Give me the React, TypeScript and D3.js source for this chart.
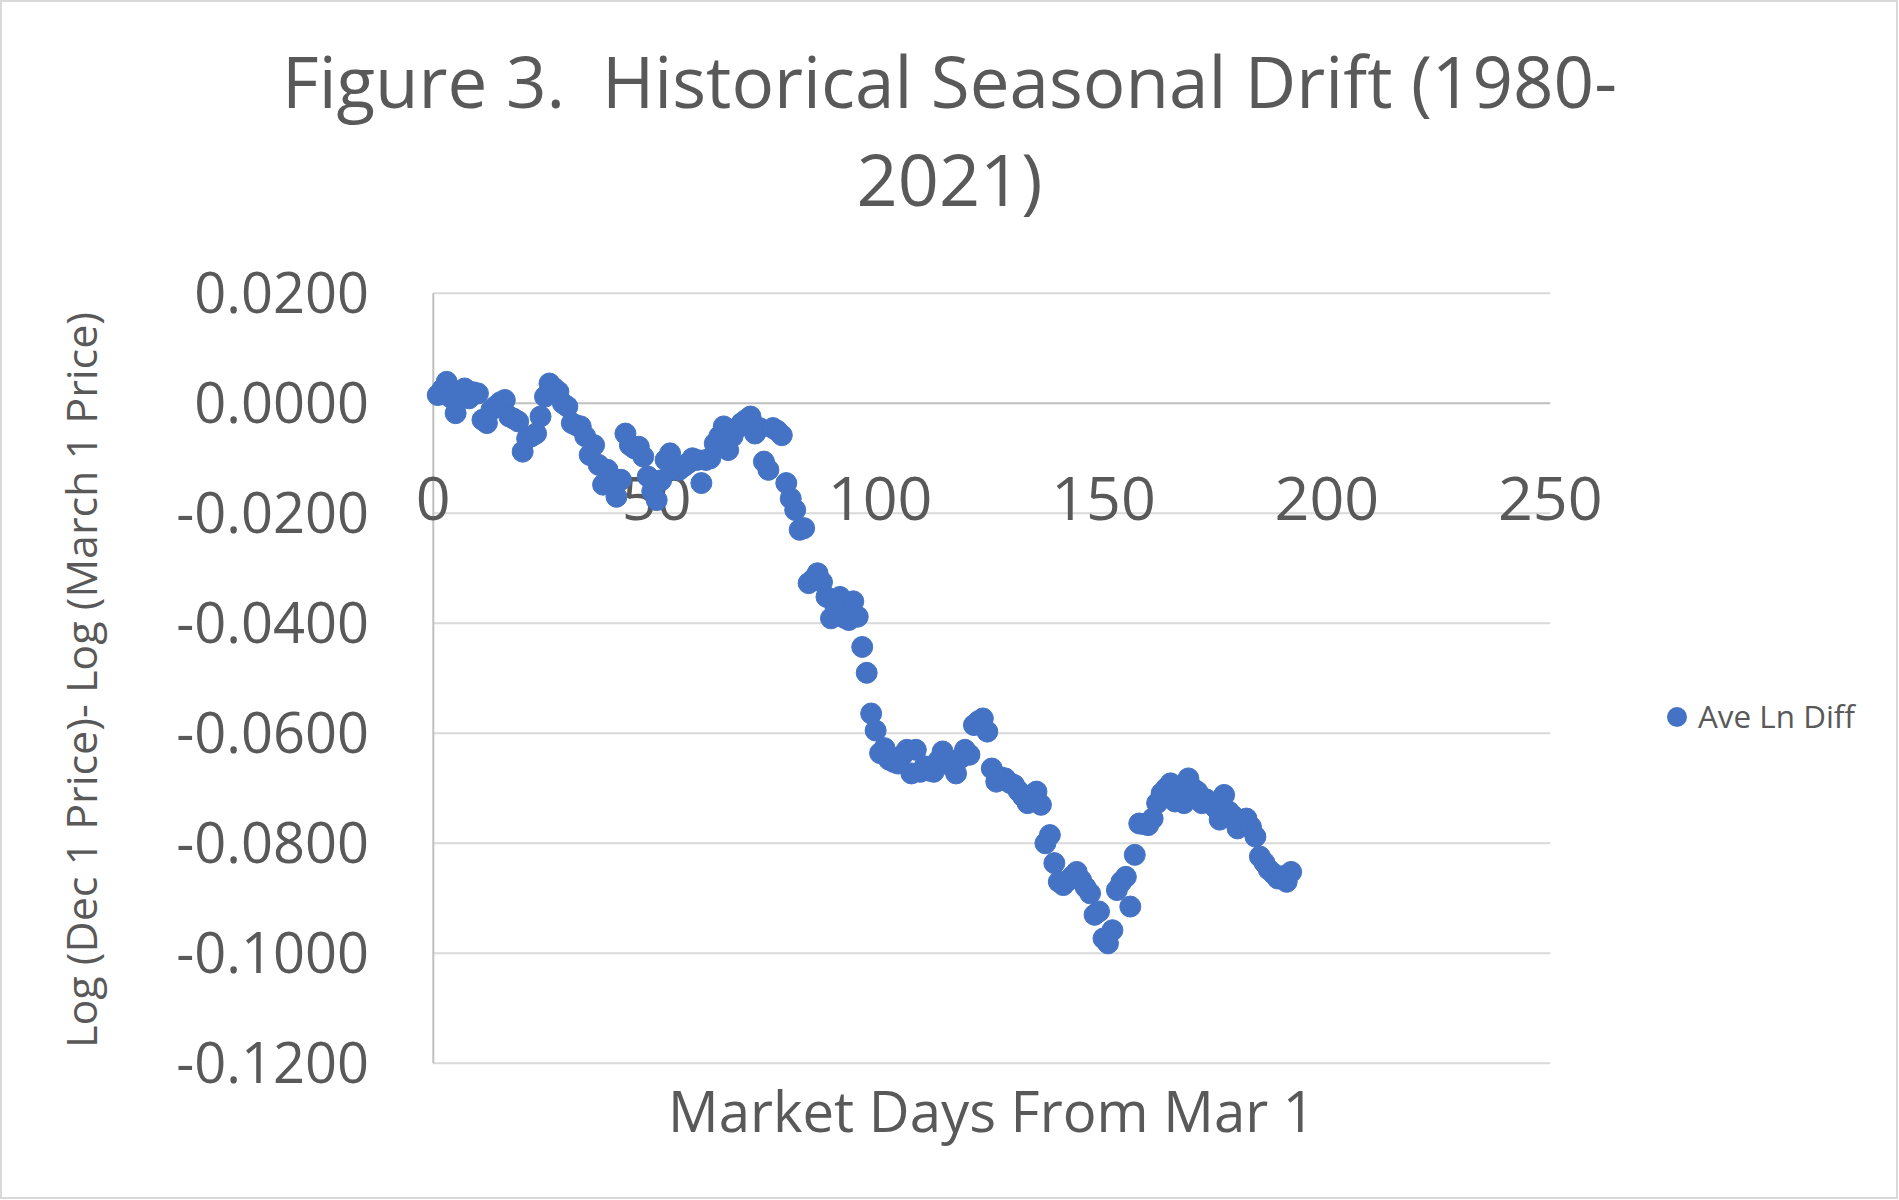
import React from "react";
import * as d3 from "d3";

const chartTitleLines = ["Figure 3.  Historical Seasonal Drift (1980-", "2021)"];
const xAxisTitle = "Market Days From Mar 1";
const yAxisTitle = "Log (Dec 1 Price)- Log (March 1 Price)";
const seriesName = "Ave Ln Diff";

const xTicks = [0, 50, 100, 150, 200, 250];
const yTicks = [0.02, 0, -0.02, -0.04, -0.06, -0.08, -0.1, -0.12];

// Average log difference per market day (days 1..192)
const aveLnDiff = [
  0.0015, 0.0025, 0.0039, 0.001, -0.0018, 0.0015, 0.0027, 0.0009, 0.002, 0.0018,
  -0.003, -0.0036, -0.0012, -0.0005, 0.0002, 0.0006, -0.0024, -0.0028, -0.0033, -0.0088,
  -0.0064, -0.006, -0.0055, -0.0024, 0.0012, 0.0036, 0.0028, 0.0021, 0.0, -0.0006,
  -0.0036, -0.004, -0.0042, -0.006, -0.0094, -0.0076, -0.0112, -0.0148, -0.0121, -0.0135,
  -0.017, -0.0139, -0.0055, -0.0076, -0.0082, -0.0079, -0.0097, -0.0133, -0.016, -0.0176,
  -0.014, -0.0103, -0.0091, -0.012, -0.0121, -0.0115, -0.0109, -0.01, -0.0103, -0.0145,
  -0.0103, -0.01, -0.0073, -0.006, -0.0042, -0.0085, -0.006, -0.0045, -0.0036, -0.003,
  -0.0024, -0.0055, -0.0045, -0.0106, -0.0121, -0.0045, -0.005, -0.0058, -0.0145, -0.0173,
  -0.0194, -0.023, -0.0227, -0.0327, -0.032, -0.0309, -0.0325, -0.0352, -0.0391, -0.037,
  -0.0352, -0.039, -0.0394, -0.036, -0.0388, -0.0443, -0.049, -0.0564, -0.0595, -0.0636,
  -0.0627, -0.0648, -0.0652, -0.0655, -0.064, -0.063, -0.0673, -0.063, -0.067, -0.066,
  -0.0668, -0.067, -0.065, -0.0633, -0.0655, -0.066, -0.0673, -0.0645, -0.063, -0.0639,
  -0.0585, -0.0578, -0.0573, -0.0597, -0.0664, -0.0688, -0.068, -0.0682, -0.069, -0.0694,
  -0.0705, -0.0715, -0.0727, -0.0712, -0.0706, -0.073, -0.08, -0.0785, -0.0836, -0.087,
  -0.0876, -0.0868, -0.086, -0.0852, -0.0867, -0.088, -0.0891, -0.093, -0.0924, -0.0973,
  -0.0982, -0.0958, -0.0885, -0.087, -0.0861, -0.0915, -0.0821, -0.0764, -0.0765, -0.0767,
  -0.0755, -0.0727, -0.0709, -0.07, -0.0691, -0.0724, -0.0715, -0.0727, -0.0682, -0.07,
  -0.0706, -0.0727, -0.072, -0.0727, -0.0735, -0.0757, -0.0712, -0.0742, -0.075, -0.0773,
  -0.0762, -0.0755, -0.077, -0.0788, -0.0824, -0.0835, -0.0848, -0.0855, -0.0864, -0.086,
  -0.087, -0.0852,
];
const marketDays = aveLnDiff.map((_, i) => i + 1);

const W = 1899;
const H = 1200;
const FONT = "'Open Sans', 'Noto Sans', sans-serif";
const TEXT = "#595959";
const BLUE = "#4472C4";

export default function App() {
  const x = d3.scaleLinear().domain([0, 250]).range([433.3, 1550.3]);
  const y = d3.scaleLinear().domain([-0.12, 0.02]).range([1063.3, 293.3]);
  const fmt = d3
    .formatLocale({ decimal: ".", thousands: ",", grouping: [3], currency: ["", ""], minus: "-" })
    .format(".4f");

  return (
    <div style={{ position: "absolute", left: 0, top: 0, width: W, height: H, background: "#fff" }}>
      <svg width={W} height={H} style={{ display: "block" }} fontFamily={FONT}>
        <rect x={0} y={0} width={W} height={H} fill="#fff" />
        <rect x={1} y={1} width={W - 3} height={H - 3} fill="none" stroke="#d9d9d9" strokeWidth={2} />

        {/* Title */}
        <text
          x={949.5}
          y={108}
          textAnchor="middle"
          fontSize={72}
          fill={TEXT}
          textLength={1335}
          lengthAdjust="spacingAndGlyphs"
          style={{ whiteSpace: "pre" }}
          xmlSpace="preserve"
        >
          {chartTitleLines[0]}
        </text>
        <text x={949.5} y={206} textAnchor="middle" fontSize={72} fill={TEXT}>
          {chartTitleLines[1]}
        </text>

        {/* Gridlines */}
        {yTicks.map((t) => (
          <line
            key={"g" + t}
            x1={x(0)}
            x2={x(250)}
            y1={y(t)}
            y2={y(t)}
            stroke={t === 0 ? "#bfbfbf" : "#d9d9d9"}
            strokeWidth={2}
          />
        ))}
        <line x1={x(0)} x2={x(0)} y1={y(0.02)} y2={y(-0.12)} stroke="#bfbfbf" strokeWidth={2} />

        {/* Y tick labels */}
        {yTicks.map((t) => (
          <text key={"yl" + t} x={369} y={y(t) + 20} textAnchor="end" fontSize={56} fill={TEXT}>
            {fmt(t)}
          </text>
        ))}

        {/* X tick labels */}
        {xTicks.map((t) => (
          <text key={"xl" + t} x={x(t)} y={520} textAnchor="middle" fontSize={61} fill={TEXT}>
            {String(t)}
          </text>
        ))}

        {/* Points */}
        {aveLnDiff.map((v, i) => (
          <circle key={"p" + i} cx={x(marketDays[i])} cy={y(v)} r={10.5} fill={BLUE} stroke={BLUE} strokeWidth={1} />
        ))}

        {/* Axis titles */}
        <text x={991.5} y={1132} textAnchor="middle" fontSize={57} fill={TEXT} textLength={647} lengthAdjust="spacingAndGlyphs">
          {xAxisTitle}
        </text>
        <text
          transform={`translate(97,680) rotate(-90)`}
          textAnchor="middle"
          fontSize={42}
          fill={TEXT}
          textLength={736}
          lengthAdjust="spacingAndGlyphs"
        >
          {yAxisTitle}
        </text>

        {/* Legend */}
        <circle cx={1677} cy={717} r={10} fill={BLUE} />
        <text x={1698} y={728} fontSize={31} fill={TEXT} textLength={157} lengthAdjust="spacingAndGlyphs">
          {seriesName}
        </text>
      </svg>
    </div>
  );
}
